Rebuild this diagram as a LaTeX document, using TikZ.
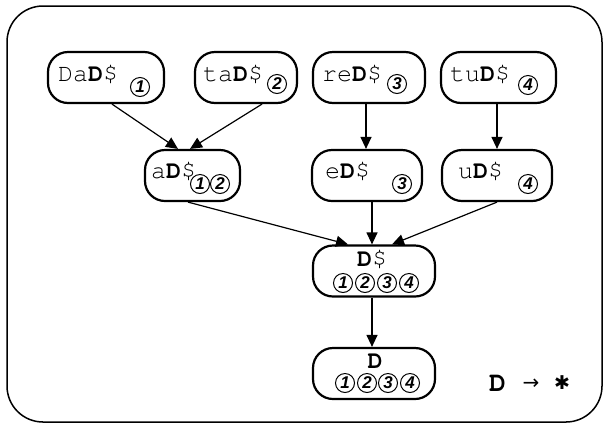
\documentclass[tikz,border=0pt]{standalone}
\usepackage{fontspec}
\newfontfamily\numfont{Liberation Sans}
\newfontfamily\symfont{DejaVu Sans}
\newcommand{\courfont}{\fontencoding{T1}\fontfamily{pcr}\selectfont}
\usetikzlibrary{arrows.meta,calc}
\tikzset{
 box/.style={draw, line width=2.2pt, rounded corners=20pt, minimum height=51pt, inner sep=0pt},
 lbl/.style={anchor=base west, inner sep=0pt, font=\courfont\fontsize{25}{25}\selectfont},
 clbl/.style={anchor=base, inner sep=0pt, font=\courfont\fontsize{25}{25}\selectfont},
 cn/.style={draw, circle, line width=1pt, minimum size=19pt, inner sep=0pt, font=\fontsize{17}{17}\selectfont\numfont\bfseries\itshape},
 arr/.style={line width=1.2pt, -{Triangle[length=12pt,width=11pt]}},
}
\begin{document}
\begin{tikzpicture}[x=1pt,y=-1pt]
\useasboundingbox (0,0) rectangle (604,424);
\draw[line width=1.5pt, rounded corners=36pt] (7,6) rectangle (602,422);
% row 1
\node[box, minimum width=116pt] (b1) at (106,77.5) {};
\node[box, minimum width=102pt] (b2) at (246,77.5) {};
\node[box, minimum width=112pt] (b3) at (369,77.5) {};
\node[box, minimum width=115pt] (b4) at (498.5,77.5) {};
\node[lbl] (t1) at (58,81) {Da\textbf{D}\$};
\node[lbl] (t2) at (203,81) {ta\textbf{D}\$};
\node[lbl] (t3) at (322,81) {re\textbf{D}\$};
\node[lbl] (t4) at (450,81) {tu\textbf{D}\$};
\node[cn] (c1) at (140,87) {1};
\node[cn] (c2) at (277,84) {2};
\node[cn] (c3) at (397,84) {3};
\node[cn] (c4) at (528,85) {4};
% row 2
\node[box, minimum width=95pt] (ad) at (192.5,175.5) {};
\node[box, minimum width=110pt] (ed) at (367,175.5) {};
\node[box, minimum width=110pt] (ud) at (497,175.5) {};
\node[lbl] (ta) at (151,178) {a\textbf{D}\$};
\node[lbl] (te) at (325,178) {e\textbf{D}\$};
\node[lbl] (tu) at (458,178) {u\textbf{D}\$};
\node[cn] (ca1) at (200,184) {1};
\node[cn] (ca2) at (220,184) {2};
\node[cn] (ce3) at (402,184) {3};
\node[cn] (cu4) at (528,184) {4};
% row 3
\node[box, minimum width=122pt] (ds) at (374,271) {};
\node[clbl] (tds) at (372,266) {\textbf{D}\$};
\node[cn] (cs1) at (343,283) {1};
\node[cn] (cs2) at (365,283) {2};
\node[cn] (cs3) at (387,283) {3};
\node[cn] (cs4) at (409,283) {4};
% row 4
\node[box, minimum width=122pt] (dd) at (374,373.5) {};
\node[clbl] (tdd) at (375,368) {\textbf{D}};
\node[cn] (cd1) at (345,383) {1};
\node[cn] (cd2) at (367,383) {2};
\node[cn] (cd3) at (388,383) {3};
\node[cn] (cd4) at (410,383) {4};
% legend
\node[inner sep=0pt, anchor=base west, font=\courfont\fontsize{28}{28}\selectfont] (lgd) at (489,391) {\textbf{D}};
\node[inner sep=0pt, font=\fontsize{20}{20}\selectfont\symfont] (lga) at (531,384) {→};
\node[inner sep=0pt, font=\fontsize{19}{19}\selectfont\symfont] (lgs) at (562,383) {✱};
% arrows
\draw[arr] ($(b1.south)+(6,0)$) -- ($(ad.north)+(-14.5,0)$);
\draw[arr] ($(b2.south)+(16,0)$) -- ($(ad.north)+(-2.5,0)$);
\draw[arr] ($(b3.south)+(-3,0)$) -- ($(ed.north)+(-1,0)$);
\draw[arr] ($(b4.south)+(-1.5,0)$) -- (ud.north);
\draw[arr] ($(ad.south)+(-4.5,0)$) -- ($(ds.north)+(-26,0)$);
\draw[arr] ($(ed.south)+(5,0)$) -- ($(ds.north)+(-2,0)$);
\draw[arr] (ud.south) -- ($(ds.north)+(18,0)$);
\draw[arr] ($(ds.south)+(-2,0)$) -- ($(dd.north)+(-2,0)$);
\end{tikzpicture}
\end{document}
